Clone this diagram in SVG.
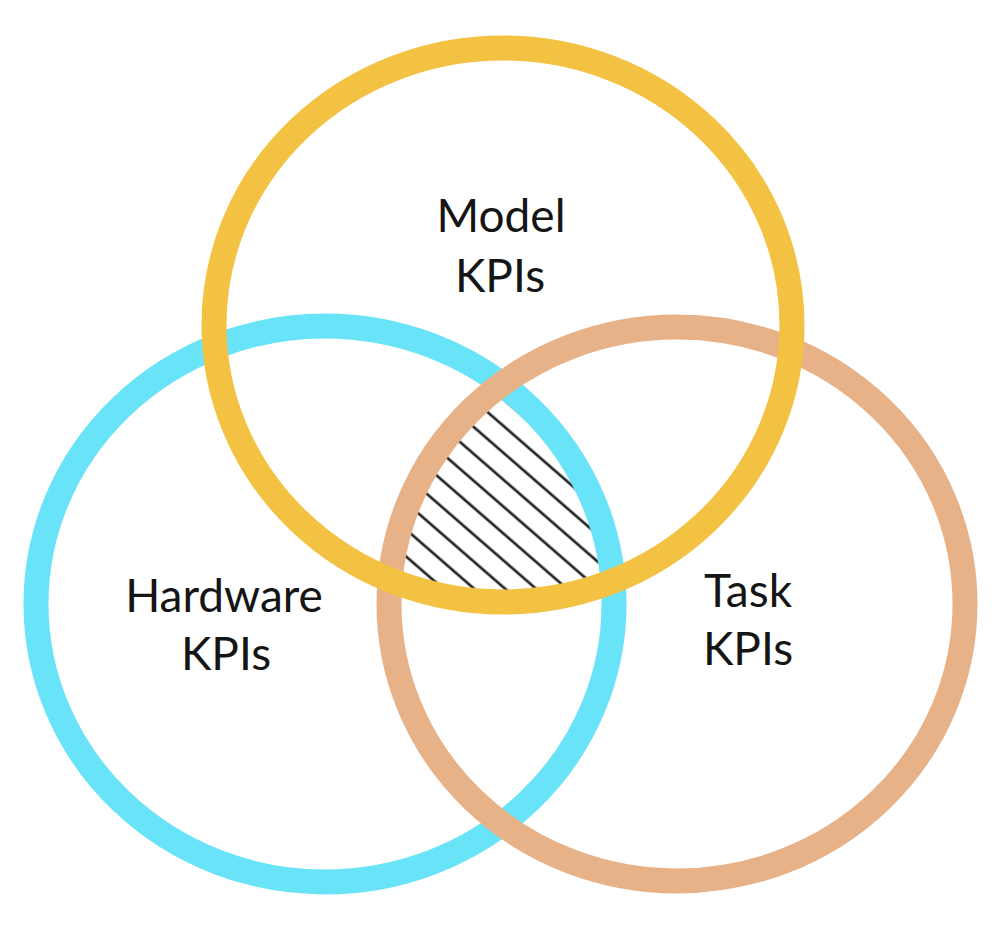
<svg xmlns="http://www.w3.org/2000/svg" width="994" height="926" viewBox="0 0 994 926">
  <defs>
    <style>
      .ring { fill: none; stroke-width: 25; }
      .label { font-family: Lato, "Open Sans", "Liberation Sans", sans-serif; font-size: 46px; fill: #151515; text-anchor: middle; }
    </style>
    <pattern id="hatch" patternUnits="userSpaceOnUse" width="40" height="20.3" patternTransform="rotate(41)">
      <line x1="-5" y1="11.5" x2="45" y2="11.5" stroke="#222222" stroke-width="2.6"/>
    </pattern>
    <clipPath id="clipModel"><ellipse cx="503" cy="325" rx="289" ry="277"/></clipPath>
    <clipPath id="clipHardware"><ellipse cx="325" cy="604" rx="289" ry="278"/></clipPath>
    <clipPath id="clipTask"><ellipse cx="677" cy="604" rx="288" ry="277"/></clipPath>
  </defs>
  <rect width="994" height="926" fill="#ffffff"/>

  <g id="intersection" clip-path="url(#clipModel)">
    <g clip-path="url(#clipHardware)">
      <rect x="350" y="350" width="300" height="300" fill="url(#hatch)" clip-path="url(#clipTask)"/>
    </g>
  </g>

  <g id="hardware">
    <ellipse class="ring" cx="325" cy="604" rx="289" ry="278" stroke="#68E3F8"/>
    <text class="label" x="224" y="612">Hardware</text>
    <text class="label" x="226" y="670">KPIs</text>
  </g>

  <g id="task">
    <ellipse class="ring" cx="677" cy="604" rx="288" ry="277" stroke="#E8B289"/>
    <text class="label" x="748" y="607">Task</text>
    <text class="label" x="748" y="665">KPIs</text>
  </g>

  <g id="model">
    <ellipse class="ring" cx="503" cy="325" rx="289" ry="277" stroke="#F3C243"/>
    <text class="label" x="501" y="232">Model</text>
    <text class="label" x="500" y="292">KPIs</text>
  </g>
</svg>
